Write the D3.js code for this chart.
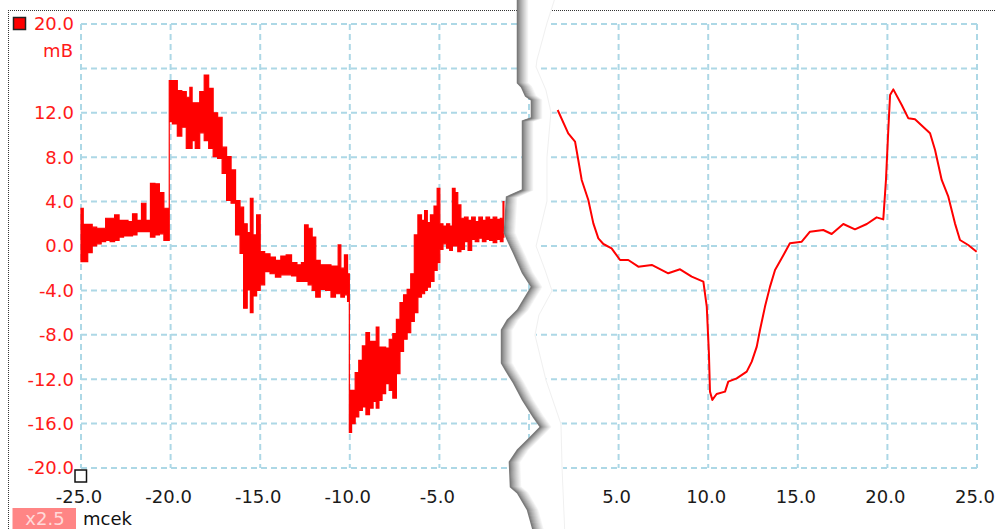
<!DOCTYPE html>
<html><head><meta charset="utf-8">
<script src="https://cdn.jsdelivr.net/npm/d3@7"></script>
<style>html,body{margin:0;padding:0;background:#fff;overflow:hidden}</style>
</head><body><svg id="c" width="995" height="529"></svg>
<script>
// ---------- data ----------
const xTicks = [-25, -20, -15, -10, -5, 0, 5, 10, 15, 20, 25];
const xTickLabels = [-25, -20, -15, -10, -5, 5, 10, 15, 20, 25];
const yGrid = [20, 16, 12, 8, 4, 0, -4, -8, -12, -16, -20];
const yTickLabels = [20, 12, 8, 4, 0, -4, -8, -12, -16, -20];
const yUnit = "mB";
const xUnit = "mcek";
const zoomLabel = "x2.5";

// left (noisy) trace: envelope of the signal
const leftT  = [-25.0,-24.75,-24.5,-24.25,-24.0,-23.75,-23.5,-23.25,-23.0,-22.75,-22.5,-22.25,-22.0,-21.75,-21.5,-21.25,-21.0,-20.75,-20.5,-20.25,-20.1,
  -20.05,-19.75,-19.5,-19.25,-19.0,-18.85,-18.75,-18.5,-18.25,-18.0,-17.75,-17.5,-17.25,-17.0,-16.75,-16.5,-16.25,-16.0,-15.85,-15.6,-15.5,-15.3,-15.1,
  -14.9,-14.6,-14.3,-14.0,-13.7,-13.4,-13.1,-12.8,-12.6,-12.45,-12.2,-12.0,-11.8,-11.5,-11.2,-10.9,-10.7,-10.6,-10.4,-10.2,-10.05,
  -10.0,-9.8,-9.6,-9.4,-9.2,-9.0,-8.8,-8.6,-8.45,-8.3,-8.1,-7.9,-7.7,-7.5,-7.3,-7.1,-6.9,-6.7,-6.5,-6.3,-6.1,-5.9,-5.75,-5.6,-5.4,-5.2,-5.05,
  -4.9,-4.7,-4.5,-4.35,-4.2,-4.05,-3.9,-3.7,-3.5,-3.3,-3.1,-2.9,-2.7,-2.5,-2.3,-2.1,-1.9,-1.7,-1.5,-1.4];
const leftHi = [3.4,1.95,1.95,1.7,1.6,1.6,2.5,2.5,2.8,2.3,2.3,2.2,2.9,2.3,3.85,2.3,5.65,5.6,4.8,3.4,3.4,
  14.9,14.9,14.0,13.9,13.4,14.3,12.9,12.9,13.9,15.4,14.2,12.0,11.6,8.9,8.05,6.85,4.1,3.5,2.0,1.2,4.3,1.0,2.8,
  -0.5,-0.7,-1.0,-1.3,-0.9,-0.8,-1.5,-1.7,-1.5,1.9,1.6,0.8,-1.3,-1.7,-1.7,-1.8,-1.8,0.1,-2.0,-0.8,-2.5,
  -13.0,-13.0,-11.4,-10.3,-9.0,-7.8,-8.6,-8.6,-7.3,-9.1,-9.1,-9.2,-8.4,-7.9,-6.6,-5.1,-4.4,-3.9,-2.5,1.0,2.8,2.3,3.2,2.1,2.8,3.6,5.2,
  2.0,1.8,2.0,1.8,5.2,4.8,3.7,2.5,2.6,2.3,2.6,2.2,2.6,2.3,2.6,2.4,2.6,2.4,2.5,4.0];
const leftLo = [-1.4,-1.4,-0.6,0.0,0.2,0.4,0.5,0.4,0.5,0.8,0.9,0.9,1.0,1.3,1.3,1.3,0.8,1.0,1.1,0.5,0.5,
  11.2,11.0,9.9,10.7,8.8,8.8,9.5,8.8,10.2,9.5,8.8,8.05,7.9,6.55,4.1,3.85,1.0,-0.66,-5.6,-3.96,-6.0,-4.5,-4.0,
  -3.5,-2.3,-2.5,-2.8,-2.6,-2.6,-2.7,-3.2,-3.2,-3.2,-3.5,-4.0,-4.6,-3.9,-4.0,-4.6,-4.3,-4.3,-4.6,-4.4,-5.0,
  -16.8,-16.0,-15.4,-14.8,-14.5,-15.2,-14.6,-14.0,-14.6,-13.9,-13.3,-12.4,-13.0,-13.7,-11.5,-9.5,-8.4,-7.8,-6.8,-6.0,-4.6,-4.3,-4.0,-3.7,-3.2,-2.2,-1.5,
  -0.3,0.2,-0.2,-0.4,0.0,0.0,-0.5,-0.3,0.4,-0.4,0.6,0.4,0.7,0.4,0.6,0.5,0.3,0.6,0.4,0.8];

// right (smooth) trace
const rightT = [1.6,2.19,2.57,2.75,2.94,3.31,3.59,3.87,4.15,4.61,5.08,5.54,6.10,6.85,7.77,8.43,9.08,9.73,9.92,10.04,10.10,10.23,10.47,10.94,11.12,11.59,12.15,12.43,12.71,12.89,13.17,13.45,13.73,14.10,14.56,15.22,15.68,16.42,16.89,17.54,18.19,18.85,19.40,19.77,19.92,20.05,20.15,20.33,20.80,21.17,21.54,22.38,22.66,23.03,23.40,23.77,24.05,24.51,24.98];
const rightV = [12.25,10.15,9.40,7.75,5.95,4.14,2.04,0.69,0.18,-0.21,-1.26,-1.26,-1.86,-1.71,-2.46,-2.10,-2.76,-3.21,-5.46,-9.67,-13.12,-13.87,-13.33,-13.12,-12.22,-11.92,-11.32,-10.42,-9.07,-7.57,-5.46,-3.66,-2.16,-1.11,0.24,0.39,1.29,1.44,1.08,1.98,1.50,1.98,2.58,2.40,5.95,10.45,13.60,14.11,12.70,11.50,11.41,10.15,8.65,5.95,4.44,2.04,0.54,0.09,-0.51];

// torn-paper gap outline (chart units)
const tearLeft = [[-0.67,22.6],[-0.67,14.68],[-0.45,14.32],[-0.22,13.51],[0.11,13.15],[0.11,11.53],[-0.39,11.26],[-0.39,5.05],[-1.28,4.41],[-1.40,1.17],[-1.23,0.54],[-0.89,-0.63],[-0.39,-2.43],[0.11,-3.69],[-0.33,-4.86],[-0.67,-5.77],[-1.23,-6.67],[-1.56,-7.57],[-1.56,-10.54],[-1.34,-11.17],[-0.89,-12.34],[-0.39,-13.87],[0.22,-15.41],[0.61,-16.31],[0.06,-17.21],[-0.67,-18.38],[-1.12,-19.46],[-1.06,-21.71],[-0.67,-22.25],[-0.11,-23.78],[0.28,-26.04]];
const tearRight = [[1.56,22.6],[1.06,20.09],[0.50,16.76],[0.45,16.13],[1.00,14.05],[1.28,12.07],[1.06,8.02],[1.06,4.05],[0.67,1.44],[0.45,0],[0.95,-2.16],[1.34,-4.05],[0.61,-6.22],[0.39,-8.02],[1.00,-12.07],[1.84,-16.04],[1.90,-20.0],[2.06,-26.04]];

// ---------- drawing ----------
const svg = d3.select('#c');
const x = d3.scaleLinear().domain([-25, 25]).range([81, 977]);
const y = d3.scaleLinear().domain([-20, 20]).range([468, 24]);
const FONT = "'DejaVu Sans', Verdana, sans-serif";

svg.append('rect').attr('width', 995).attr('height', 529).attr('fill', '#fff');

// grid
const grid = svg.append('g');
grid.selectAll('line.v').data(xTicks).join('line').attr('class', 'v')
  .attr('x1', d => x(d)).attr('x2', d => x(d)).attr('y1', y(20)).attr('y2', y(-20))
  .attr('stroke', '#add8e6').attr('stroke-width', 2).attr('stroke-dasharray', '6,4');
grid.selectAll('line.h').data(yGrid).join('line').attr('class', 'h')
  .attr('x1', x(-25)).attr('x2', x(25)).attr('y1', d => y(d)).attr('y2', d => y(d))
  .attr('stroke', '#add8e6').attr('stroke-width', 2).attr('stroke-dasharray', '6,4');

// left noisy trace
const leftData = leftT.map((t, i) => ({t, hi: leftHi[i], lo: leftLo[i]}));
const area = d3.area().curve(d3.curveStep).x(d => x(d.t)).y0(d => y(d.lo)).y1(d => y(d.hi));
svg.append('path').datum(leftData).attr('d', area)
  .attr('fill', '#ff0000').attr('stroke', '#ff0000').attr('stroke-width', 1.2);

// right smooth trace
const rightData = rightT.map((t, i) => ({t, v: rightV[i]}));
svg.append('path').datum(rightData)
  .attr('d', d3.line().x(d => x(d.t)).y(d => y(d.v)))
  .attr('fill', 'none').attr('stroke', '#ff0000').attr('stroke-width', 2).attr('stroke-linejoin', 'round');

// axis labels
svg.append('g').selectAll('text').data(yTickLabels).join('text')
  .attr('x', 74).attr('y', d => y(d)).attr('dy', '0.36em')
  .attr('text-anchor', 'end').attr('font-family', FONT).attr('font-size', 18)
  .attr('fill', '#ff1a1a').text(d => d.toFixed(1));
svg.append('text').attr('x', 73).attr('y', y(17.6)).attr('dy', '0.36em')
  .attr('text-anchor', 'end').attr('font-family', FONT).attr('font-size', 18)
  .attr('fill', '#ff1a1a').text(yUnit);
svg.append('g').selectAll('text').data(xTickLabels).join('text')
  .attr('x', d => x(d) - 2).attr('y', 503)
  .attr('text-anchor', 'middle').attr('font-family', FONT).attr('font-size', 18)
  .attr('fill', '#1a1a1a').text(d => d.toFixed(1));

// borders (dotted)
svg.append('line').attr('x1', 8).attr('x2', 995).attr('y1', 10.5).attr('y2', 10.5)
  .attr('stroke', '#333').attr('stroke-dasharray', '1,1');
svg.append('line').attr('x1', 8.5).attr('x2', 8.5).attr('y1', 10).attr('y2', 529)
  .attr('stroke', '#333').attr('stroke-dasharray', '1,1');

// torn gap
const lp = tearLeft.map(d => [x(d[0]), y(d[1])]);
const rp = tearRight.map(d => [x(d[0]), y(d[1])]);
svg.append('polygon').attr('points', lp.concat(rp.slice().reverse()).map(p => p.join(',')).join(' '))
  .attr('fill', '#fff');
const shade = d3.interpolateRgb('#7a7a7a', '#ffffff');
for (let i = 11; i >= 0; i--) {
  svg.append('polyline').attr('points', lp.map(p => (p[0] + i + 0.5) + ',' + p[1]).join(' '))
    .attr('fill', 'none').attr('stroke', shade(Math.pow(i / 11, 0.8))).attr('stroke-width', 1.5);
}
svg.append('polyline').attr('points', rp.map(p => (p[0] - 1) + ',' + p[1]).join(' '))
  .attr('fill', 'none').attr('stroke', '#f0f0f0').attr('stroke-width', 1);

// markers
svg.append('rect').attr('x', 13.5).attr('y', 17.5).attr('width', 12).attr('height', 12)
  .attr('fill', '#ff0000').attr('stroke', '#222').attr('stroke-width', 1.5);
svg.append('rect').attr('x', 75).attr('y', 470).attr('width', 11.5).attr('height', 12)
  .attr('fill', 'none').attr('stroke', '#111').attr('stroke-width', 1.5);

// zoom badge and x unit
svg.append('rect').attr('x', 12.5).attr('y', 508).attr('width', 63.5).attr('height', 22).attr('fill', '#ff8585');
svg.append('text').attr('x', 45).attr('y', 525).attr('text-anchor', 'middle')
  .attr('font-family', FONT).attr('font-size', 18).attr('fill', '#ffd9d9').text(zoomLabel);
svg.append('text').attr('x', 83).attr('y', 525)
  .attr('font-family', FONT).attr('font-size', 18).attr('fill', '#111').text(xUnit);
</script></body></html>
